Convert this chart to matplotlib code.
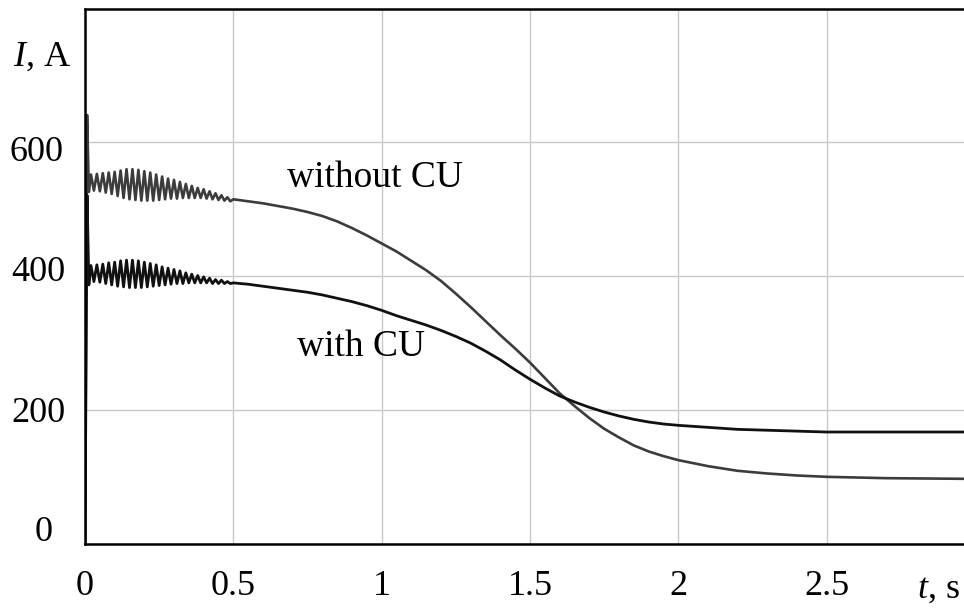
import numpy as np
import matplotlib
matplotlib.use("Agg")
import matplotlib.pyplot as plt
from matplotlib.transforms import offset_copy

plt.rcParams['font.family'] = ['Liberation Serif', 'DejaVu Serif']
plt.rcParams['mathtext.fontset'] = 'custom'
plt.rcParams['mathtext.rm'] = 'Liberation Serif'
plt.rcParams['mathtext.it'] = 'Liberation Serif:italic'

# start-up transient (switch-on spike)
t_start = [0.0, 0.007, 0.013]
without_start = [0, 641, 526]
with_start = [0, 521, 387]

# 50 Hz oscillation, values read every half period from 0.02 s to 0.50 s
t_osc = np.round(np.arange(0.02, 0.505, 0.01), 3)
without_osc = [552, 528, 553, 527, 554, 525, 555, 523, 556, 520,
               558, 517, 560, 515, 560, 514, 559, 513, 557, 513,
               555, 513, 552, 514, 549, 515, 546, 516, 544, 516,
               541, 517, 538, 517, 535, 517, 532, 517, 530, 516,
               527, 515, 524, 514, 521, 513, 518, 512, 515]
with_osc = [416, 392, 417, 391, 418, 389, 420, 387, 421, 385,
            423, 384, 424, 383, 424, 383, 423, 383, 421, 384,
            419, 385, 417, 386, 414, 387, 412, 388, 410, 389,
            408, 389, 405, 390, 403, 390, 401, 390, 399, 390,
            397, 389, 395, 389, 394, 389, 392, 389, 390]

# smooth decay after 0.5 s
t_without = [0.55, 0.6, 0.65, 0.7, 0.75, 0.8, 0.85, 0.9, 0.95, 1.0,
             1.05, 1.1, 1.15, 1.2, 1.25, 1.3, 1.35, 1.4, 1.45, 1.5,
             1.55, 1.6, 1.65, 1.7, 1.75, 1.8, 1.85, 1.9, 1.95, 2.0,
             2.1, 2.2, 2.3, 2.4, 2.5, 2.7, 2.97]
without_tail = [512, 509, 505, 501, 496, 490, 482, 472, 461, 449,
                437, 423, 409, 393, 374, 354, 333, 312, 292, 271,
                248, 225, 206, 188, 172, 159, 147, 138, 131, 125,
                116, 109, 105, 102, 100, 98, 97]
t_with = [0.55, 0.6, 0.65, 0.7, 0.75, 0.8, 0.85, 0.9, 0.95, 1.0,
          1.05, 1.1, 1.15, 1.2, 1.25, 1.3, 1.35, 1.4, 1.45, 1.5,
          1.55, 1.6, 1.65, 1.7, 1.75, 1.8, 1.85, 1.9, 1.95, 2.0,
          2.1, 2.2, 2.35, 2.5, 2.97]
with_tail = [388, 385, 382, 379, 376, 372, 367, 362, 356, 349,
             341, 334, 327, 319, 310, 300, 288, 275, 260, 246,
             233, 221, 212, 204, 197, 191, 186, 182, 179, 177,
             174, 171, 169, 167, 167]

t1 = np.concatenate([t_start, t_osc, t_without])
i1 = np.concatenate([without_start, without_osc, without_tail])
t2 = np.concatenate([t_start, t_osc, t_with])
i2 = np.concatenate([with_start, with_osc, with_tail])

fig = plt.figure(figsize=(9.64, 6.13), dpi=100)
ax = fig.add_axes([85 / 964, 1 - 543.7 / 613, 1 - 85 / 964, (543.7 - 8.7) / 613])

ax.plot(t1, i1, color='#3c3c3c', lw=1.9)
ax.plot(t2, i2, color='#111111', lw=2.0)

ax.set_xlim(0, 879 / 296.6)
ax.set_ylim(0, 800)
ax.set_xticks([0, 0.5, 1, 1.5, 2, 2.5])
ax.set_xticklabels(['0', '0.5', '1', '1.5', '2', '2.5'])
ax.set_yticks([0, 200, 400, 600])
ax.set_yticklabels(['0', '200', '400', '600'])
ax.grid(True, color='#c8c8c8', lw=1.0)
ax.set_axisbelow(True)
ax.tick_params(length=0, labelsize=26, colors='black')
ax.tick_params(axis='x', pad=19)
ax.tick_params(axis='y', pad=14)

ax.spines['right'].set_visible(False)
for s in ['left', 'bottom', 'top']:
    ax.spines[s].set_linewidth(1.8)
    ax.spines[s].set_color('black')

# small label shifts as in the original
shifts = {'0': (-13, 15), '200': (0, 0), '400': (0, 8), '600': (-2, -6)}
for lab in ax.get_yticklabels():
    dx, dy = shifts[lab.get_text()]
    lab.set_transform(offset_copy(lab.get_transform(), fig=fig, x=dx, y=dy, units='dots'))

ax.text(0.681, 547, 'without CU', fontsize=27, va='center', ha='left')
ax.text(0.715, 294, 'with CU', fontsize=27, va='center', ha='left')
ax.text(-0.243, 728, '$I$, A', fontsize=26, va='center', ha='left', clip_on=False)
ax.text(2.805, -0.085, '$t$, s', fontsize=26, va='center', ha='left',
        transform=ax.get_xaxis_transform(), clip_on=False)

fig.savefig('out.png', dpi=100)
